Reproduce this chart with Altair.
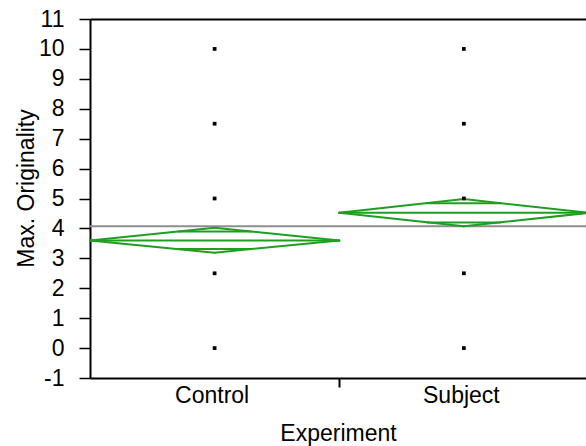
import math
import altair as alt
import pandas as pd

# ---- data ----
categories = ["Control", "Subject"]
group_means = [3.60, 4.52]
ci_lower = [3.19, 4.07]
ci_upper = [4.02, 4.98]
grand_mean = [4.07]
control_values = [0, 2.5, 5, 7.5, 10]
subject_values = [0, 2.5, 5, 7.5, 10]
y_ticks = [-1, 0, 1, 2, 3, 4, 5, 6, 7, 8, 9, 10, 11]

FONT = "Liberation Sans"
GREEN = "#1f9e22"
FS = 23

# ---- tables built from the arrays ----
pts = []
for i, vals in enumerate([control_values, subject_values]):
    for v in vals:
        pts.append({"x": i + 0.5, "y": v})
points_df = pd.DataFrame(pts)

segs = []
frac = 1 - 1 / math.sqrt(2)
for i, cat in enumerate(categories):
    lft, ctr, rgt = i, i + 0.5, i + 1
    m, lo, hi = group_means[i], ci_lower[i], ci_upper[i]
    segs += [
        dict(x=lft, y=m, x2=ctr, y2=hi),
        dict(x=ctr, y=hi, x2=rgt, y2=m),
        dict(x=rgt, y=m, x2=ctr, y2=lo),
        dict(x=ctr, y=lo, x2=lft, y2=m),
        dict(x=lft, y=m, x2=rgt, y2=m),
    ]
    up = m + (hi - m) / math.sqrt(2)
    dn = m - (m - lo) / math.sqrt(2)
    segs += [
        dict(x=ctr - 0.5 * frac, y=up, x2=ctr + 0.5 * frac, y2=up),
        dict(x=ctr - 0.5 * frac, y=dn, x2=ctr + 0.5 * frac, y2=dn),
    ]
seg_df = pd.DataFrame(segs)

gm_df = pd.DataFrame({"x": [0], "x2": [len(categories)], "y": grand_mean})

# ---- scales and axes ----
xscale = alt.Scale(domain=[0, 1.99], nice=False, zero=False)
yscale = alt.Scale(domain=[-1, 11], nice=False, zero=False)

tick_vals = []
label_expr = ""
for i, c in enumerate(categories):
    tick_vals.append(i + 0.5)
    if i > 0:
        tick_vals.append(i)
    label_expr += f"datum.value == {i + 0.5} ? '{c}' : "
label_expr += "''"
tick_vals = sorted(tick_vals)

xaxis = alt.Axis(
    values=tick_vals,
    labelExpr=label_expr,
    title="Experiment",
    grid=False,
    tickSize=9,
    tickWidth=2,
    tickColor={"condition": {"test": "datum.value % 1 == 0", "value": "black"},
               "value": "transparent"},
    domainColor="black",
    domainWidth=2,
    labelFont=FONT,
    labelFontSize=FS,
    labelColor="black",
    labelPadding=15,
    labelBaseline="alphabetic",
    labelFlush=False,
    labelOffset=-3,
    titleFont=FONT,
    titleFontSize=FS,
    titleFontWeight="normal",
    titleColor="black",
    titleBaseline="alphabetic",
    titleAlign="center",
    titleX=248,
    titleY=62,
)

yaxis = alt.Axis(
    values=y_ticks,
    labelExpr="'' + datum.value",
    title="Max. Originality",
    grid=False,
    tickSize=11,
    tickWidth=1.5,
    tickColor="black",
    domainColor="black",
    domainWidth=2,
    labelFont=FONT,
    labelFontSize=FS,
    labelColor="black",
    labelPadding=15,
    titleFont=FONT,
    titleFontSize=FS,
    titleFontWeight="normal",
    titleColor="black",
    titleAngle=270,
    titleBaseline="alphabetic",
    titleAlign="center",
    titleX=-57,
    titleY=169,
)

top_axis = alt.Axis(
    orient="top",
    labels=False,
    ticks=False,
    grid=False,
    domain=True,
    domainColor="black",
    domainWidth=2,
    title=None,
)

grand = alt.Chart(gm_df).mark_rule(color="#8e8e8e", strokeWidth=2).encode(
    x=alt.X("x:Q", scale=xscale, axis=top_axis),
    x2="x2:Q",
    y=alt.Y("y:Q", scale=yscale, axis=yaxis),
)

diamonds = alt.Chart(seg_df).mark_rule(color=GREEN, strokeWidth=2, strokeCap="round").encode(
    x=alt.X("x:Q", scale=xscale, axis=xaxis),
    x2="x2:Q",
    y=alt.Y("y:Q", scale=yscale, axis=None),
    y2="y2:Q",
)

points = alt.Chart(points_df).mark_square(color="black", size=14, opacity=1).encode(
    x=alt.X("x:Q", scale=xscale, axis=None),
    y=alt.Y("y:Q", scale=yscale, axis=None),
)

chart = (
    alt.layer(grand, diamonds, points)
    .resolve_axis(x="independent", y="independent")
    .properties(
        width=496,
        height=359,
        autosize=alt.AutoSizeParams(type="none"),
        padding={"left": 90, "top": 19, "right": 0, "bottom": 68},
        background="white",
    )
    .configure_view(stroke=None)
)

chart.save("out.html", embed_options={"renderer": "svg", "actions": False})
